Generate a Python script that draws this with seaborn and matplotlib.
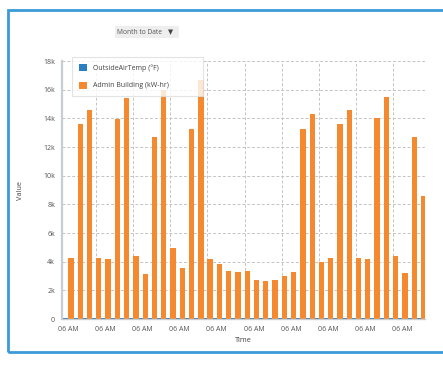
import numpy as np
import pandas as pd
import seaborn as sns
import matplotlib.pyplot as plt
from matplotlib.patches import Patch, Rectangle

# Daily readings (one bar per day, labelled at 06 AM)
admin_kwh = [4250, 13600, 14600, 4250, 4200, 13950, 15400, 4400, 3150, 12700,
             16000, 4950, 3550, 13250, 16650, 4200, 3850, 3350, 3300, 3350,
             2700, 2650, 2700, 3000, 3300, 13250, 14300, 4000, 4250, 13600,
             14600, 4250, 4200, 14000, 15500, 4400, 3200, 12700, 8600]
outside_temp = [52, 55, 58, 50, 48, 54, 57, 53, 49, 51,
                56, 60, 58, 55, 52, 50, 47, 49, 53, 55,
                57, 59, 58, 54, 51, 50, 53, 56, 58, 60,
                57, 54, 52, 50, 49, 51, 55, 57, 56]
series_names = ["OutsideAirTemp (°F)", "Admin Building (kW-hr)"]
series_colors = ["#2b7fc1", "#f5892f"]
tick_label = "06 AM"

n = len(admin_kwh)
df = pd.DataFrame({
    "day": list(range(n)) * 2,
    "value": outside_temp + admin_kwh,
    "series": [series_names[0]] * n + [series_names[1]] * n,
})

sns.set_style("white")
plt.rcParams["font.family"] = ["Open Sans", "DejaVu Sans"]

fig = plt.figure(figsize=(4.43, 3.71), dpi=100)
ax = fig.add_axes([62 / 443, 1 - 319 / 371, 363 / 443, 258 / 371])

sns.barplot(data=df, x="day", y="value", hue="series", palette=series_colors,
            dodge=True, width=1.15, gap=0, ax=ax, legend=False, saturation=1,
            linewidth=0)

ax.set_xlim(-0.68, n - 1 + 0.45)
ax.set_ylim(0, 18000)
ax.set_yticks(np.arange(0, 18001, 2000))
ax.set_yticklabels(["0"] + [f"{v // 1000}k" for v in range(2000, 18001, 2000)])
ax.set_xticks(range(n))
ax.set_xticklabels([tick_label if i % 4 == 0 else "" for i in range(n)])
ax.tick_params(axis="both", labelsize=5, colors="#222222", length=3, width=0.8,
               pad=2, labelcolor="#555555")

# dashed grid
for y in range(2000, 18001, 2000):
    ax.axhline(y, color="#c4c4c4", lw=0.7, ls=(0, (3, 2)), zorder=0)
for i in range(3, n, 4):
    ax.axvline(i, color="#c4c4c4", lw=0.7, ls=(0, (3, 2)), zorder=0)

for s in ["top", "right"]:
    ax.spines[s].set_visible(False)
ax.spines["left"].set_color("#c8cdd2")
ax.spines["left"].set_linewidth(1.6)
ax.spines["bottom"].set_color("#c8cdd2")
ax.spines["bottom"].set_linewidth(1.0)

ax.set_xlabel("Time", fontsize=5.2, color="#444444", labelpad=3)
ax.set_ylabel("Value", fontsize=5.2, color="#444444", labelpad=14)

handles = [Patch(facecolor=c, edgecolor="none") for c in series_colors]
leg = ax.legend(handles, series_names, loc="upper left", mode="expand",
                bbox_to_anchor=(0.0275, 0.5, 0.361, 0.5155), fontsize=5,
                frameon=True, handlelength=1.2, handleheight=1.2,
                handletextpad=0.8, labelspacing=1.4, borderpad=1.0,
                borderaxespad=0, fancybox=False)
leg.get_frame().set_edgecolor("#dddddd")
leg.get_frame().set_linewidth(0.8)
leg.get_frame().set_alpha(0.8)
for t in leg.get_texts():
    t.set_color("#444444")

# outer panel border
fig.patches.append(Rectangle((8 / 443, 1 - 352 / 371), 1.0, 342 / 371,
                             transform=fig.transFigure, fill=False,
                             edgecolor="#3a9bd8", lw=2.0))
# range selector button
fig.patches.append(Rectangle((115 / 443, 1 - 38 / 371), 64 / 443, 12 / 371,
                             transform=fig.transFigure, facecolor="#eeeeee",
                             edgecolor="none"))
fig.text(117 / 443, 1 - 32 / 371, "Month to Date", fontsize=4.8,
         color="#555555", va="center", ha="left")
fig.text(171 / 443, 1 - 32 / 371, "▼", fontsize=4.8, color="#444444",
         va="center", ha="center", family="DejaVu Sans")

fig.savefig("out.png", dpi=100)
